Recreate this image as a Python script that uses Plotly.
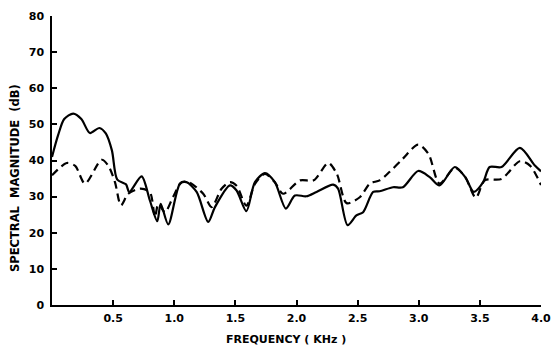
import plotly.graph_objects as go

# Solid curve
freq_solid = [0, 0.05, 0.1, 0.174, 0.24, 0.31, 0.387, 0.44, 0.49, 0.534, 0.605, 0.632, 0.733, 0.80,
              0.861, 0.889, 0.951, 1.047, 1.10, 1.183, 1.278, 1.333, 1.455, 1.51, 1.59, 1.66, 1.742,
              1.823, 1.913, 1.987, 2.08, 2.164, 2.30, 2.34, 2.418, 2.49, 2.545, 2.627, 2.68, 2.79,
              2.87, 2.995, 3.09, 3.17, 3.295, 3.38, 3.45, 3.527, 3.58, 3.677, 3.827, 3.95, 4.0]
mag_solid = [41, 47, 51.5, 53, 51.5, 47.6, 49, 47.5, 42.8, 34.7, 33.4, 31.3, 35.6, 29,
             23.2, 28, 22.3, 33.6, 34, 31.3, 23, 27.1, 33.1, 31.7, 26, 34, 36.5,
             34, 26.7, 30.3, 30.1, 31.3, 33.3, 32.2, 22.1, 24.8, 25.7, 31.3, 31.5, 32.6,
             32.6, 37.1, 35.4, 33.1, 38.2, 35.4, 31.3, 34, 38.2, 38.2, 43.5, 38.6, 37]

# Dashed curve
freq_dashed = [0, 0.12, 0.19, 0.27, 0.406, 0.46, 0.515, 0.564, 0.624, 0.72, 0.80, 0.842, 0.87,
               0.924, 0.99, 1.06, 1.12, 1.237, 1.306, 1.387, 1.455, 1.51, 1.59, 1.66, 1.742,
               1.823, 1.89, 2.03, 2.14, 2.26, 2.33, 2.41, 2.52, 2.60, 2.68, 2.76, 2.87, 2.995,
               3.08, 3.17, 3.295, 3.38, 3.467, 3.54, 3.677, 3.827, 3.91, 4.0]
mag_dashed = [35.9, 39.3, 38.5, 33.6, 40.2, 38.6, 34, 27.6, 30.8, 32.2, 31.3, 24.4, 28,
              25.7, 29.9, 34, 34, 30.8, 27.1, 32.2, 34, 33, 27.5, 33.5, 36.3,
              34, 30.8, 34.5, 34.5, 39.3, 36.3, 28.2, 29.9, 33.6, 34.5, 36.8, 40.5, 44.4,
              41.8, 33.6, 38, 35.4, 29.7, 34.5, 34.9, 39.8, 38.6, 33.2]

x_tickvals = [0.5, 1.0, 1.5, 2.0, 2.5, 3.0, 3.5, 4.0]
x_ticklabels = ["0.5", "1.0", "1.5", "2.0", "2.5", "3.0", "3.5", "4.0"]
y_tickvals = [0, 10, 20, 30, 40, 50, 60, 70, 80]

font_family = "DejaVu Sans, sans-serif"

fig = go.Figure()
fig.add_trace(go.Scatter(x=freq_solid, y=mag_solid, mode="lines",
                         line=dict(color="black", width=2.2, shape="spline", smoothing=0.8),
                         showlegend=False, hoverinfo="skip"))
fig.add_trace(go.Scatter(x=freq_dashed, y=mag_dashed, mode="lines",
                         line=dict(color="black", width=2.2, dash="8px,5px", shape="spline", smoothing=0.8),
                         showlegend=False, hoverinfo="skip"))

tick_font = dict(size=11, family=font_family, color="black", weight="bold")

fig.update_layout(
    width=552, height=348,
    margin=dict(l=52, r=11, t=16, b=43),
    paper_bgcolor="white", plot_bgcolor="white",
    font=dict(family=font_family, size=11, color="black"),
    xaxis=dict(range=[0, 4.0], tickvals=x_tickvals, ticktext=x_ticklabels,
               showline=True, linecolor="black", linewidth=1.5, ticks="inside",
               ticklen=5, tickcolor="black", tickwidth=1.5, showgrid=False, zeroline=False,
               tickfont=tick_font, automargin=False, ticklabelstandoff=2),
    yaxis=dict(range=[0, 80], tickvals=y_tickvals,
               showline=True, linecolor="black", linewidth=1.5, ticks="inside",
               ticklen=5, tickcolor="black", tickwidth=1.5, showgrid=False, zeroline=False,
               tickfont=tick_font, automargin=False, ticklabelstandoff=4),
    annotations=[
        dict(text="FREQUENCY ( KHz )", xref="paper", yref="paper", x=(286 - 52) / 489,
             y=-(339 - 305) / 289, xanchor="center", yanchor="middle", showarrow=False,
             font=dict(size=11, family=font_family, weight="bold")),
        dict(text="SPECTRAL  MAGNITUDE  (dB)", xref="paper", yref="paper", x=(15 - 52) / 489,
             y=(305 - 178) / 289, xanchor="center", yanchor="middle", showarrow=False,
             textangle=-90, font=dict(size=11.5, family=font_family, weight="bold")),
    ],
)

fig.write_html("out.html", config={"displayModeBar": False},
               post_script="document.body.style.margin='0';document.body.style.overflow='hidden';")
